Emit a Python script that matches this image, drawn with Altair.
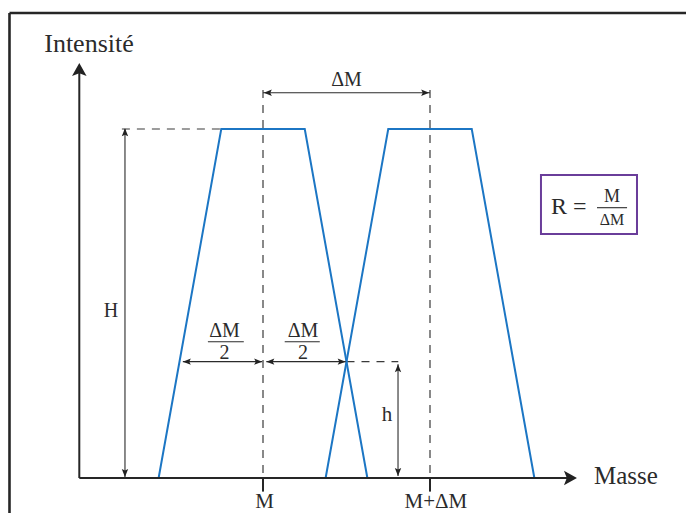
import altair as alt
import pandas as pd

# ---- data (mass units: M = 100, ΔM = 20 ; intensity units: H = 100) ----
peak_names = ["pic M"] * 4 + ["pic M+ΔM"] * 4
peak_x = [87.5, 95, 105, 112.5, 107.5, 115, 125, 132.5]
peak_y = [0, 100, 100, 0, 0, 100, 100, 0]
peak_order = [0, 1, 2, 3, 0, 1, 2, 3]

# axes (solid, thick)
axis_x = [78, 78, 100, 120]
axis_y = [0, 0, 0, 0]
axis_x2 = [78, 137, 100, 120]
axis_y2 = [118, 0, -3.9, -3.9]

# thin dimension arrows
dim_x = [100, 83.47, 90.4, 100.4, 116.17]
dim_y = [110.4, 0.3, 33.33, 33.33, 0.6]
dim_x2 = [120, 83.47, 99.9, 109.9, 116.17]
dim_y2 = [110.4, 100, 33.33, 33.33, 32.6]

# dashed guides
dash_x = [100, 120, 83.1, 110]
dash_y = [111.2, 111.2, 100, 33.33]
dash_x2 = [100, 120, 95, 116.2]
dash_y2 = [0, 0, 100, 33.33]

# fraction bars
bar_x = [93.4, 102.6, 140.0]
bar_y = [39.05, 39.05, 77.45]
bar_x2 = [97.7, 106.8, 143.6]

# frame
frame_x = [69.64, 69.64]
frame_y = [133.24, 133.24]
frame_x2 = [69.64, 150.66]
frame_y2 = [-10.03, 133.24]

# formula box
box_x, box_x2 = [133.29], [144.79]
box_y, box_y2 = [69.91], [86.82]

# arrowheads (tip position, direction in degrees)
big_head_x = [78, 137.6]
big_head_y = [118.9, 0]
big_head_dir = [0, 90]
small_head_x = [100.1, 119.9, 83.47, 83.47, 90.4, 99.9, 100.4, 109.9, 116.17, 116.17]
small_head_y = [110.4, 110.4, 100.2, 0.3, 33.33, 33.33, 33.33, 33.33, 32.6, 0.6]
small_head_dir = [270, 90, 0, 180, 270, 90, 270, 90, 0, 180]

# labels
label_text = ["Intensité", "ΔM", "H", "h", "M", "M+ΔM", "ΔM", "2", "ΔM", "2", "M", "ΔM"]
label_x = [79.16, 110, 81.8, 114.85, 100.2, 120.7, 95.4, 95.4, 104.8, 104.8, 141.8, 141.8]
label_y = [122.06, 112.3, 46.2, 16.42, -8.5, -8.5, 40.5, 34.2, 40.5, 34.2, 79.1, 72.5]
label_size = [26, 20, 20, 21, 21, 21, 20, 20, 20, 20, 18, 16]
left_text = ["Masse", "R ="]
left_x = [139.64, 134.49]
left_y = [-1.72, 75.64]
left_size = [25, 24]

XMIN, XMAX = 69.461, 150.659
YMIN, YMAX = -10.03, 134.67

FONT = "Liberation Serif"
INK = "#2b2b2b"
BLUE = "#1c76c4"

xs = alt.Scale(domain=[XMIN, XMAX], nice=False, zero=False)
ys = alt.Scale(domain=[YMIN, YMAX], nice=False, zero=False)


def seg_df(x, y, x2, y2):
    return pd.DataFrame({"x": x, "y": y, "x2": x2, "y2": y2})


def seg_layer(df, width, color=INK, dash=None):
    kw = dict(strokeWidth=width, color=color)
    if dash is not None:
        kw["strokeDash"] = dash
    return alt.Chart(df).mark_rule(**kw).encode(
        x=alt.X("x:Q", scale=xs, axis=None),
        y=alt.Y("y:Q", scale=ys, axis=None),
        x2="x2:Q",
        y2="y2:Q",
    )


peaks = pd.DataFrame({"peak": peak_names, "x": peak_x, "y": peak_y, "o": peak_order})
peak_layer = alt.Chart(peaks).mark_line(color=BLUE, strokeWidth=2).encode(
    x=alt.X("x:Q", scale=xs, axis=None),
    y=alt.Y("y:Q", scale=ys, axis=None),
    detail="peak:N",
    order="o:Q",
)

frame_layer = seg_layer(seg_df(frame_x, frame_y, frame_x2, frame_y2), 2.6, "#262626")
axis_layer = seg_layer(seg_df(axis_x, axis_y, axis_x2, axis_y2), 2.0, "#262626")
dim_layer = seg_layer(seg_df(dim_x, dim_y, dim_x2, dim_y2), 1.1)
dash_layer = seg_layer(seg_df(dash_x, dash_y, dash_x2, dash_y2), 1.2, "#3a3a3a", [8, 7])
bar_layer = seg_layer(seg_df(bar_x, bar_y, bar_x2, bar_y), 1.1)

box_layer = alt.Chart(pd.DataFrame({"x": box_x, "x2": box_x2, "y": box_y, "y2": box_y2})).mark_rect(
    fill="white", fillOpacity=0, stroke="#6a3d9a", strokeWidth=2
).encode(
    x=alt.X("x:Q", scale=xs, axis=None),
    x2="x2:Q",
    y=alt.Y("y:Q", scale=ys, axis=None),
    y2="y2:Q",
)

BIG_ARROW = "M0,0 L0.56,1 L0,0.78 L-0.56,1 Z"
SMALL_ARROW = "M0,0 L0.4,1 L0,0.8 L-0.4,1 Z"


def head_layer(x, y, d, shape, size):
    df = pd.DataFrame({"x": x, "y": y, "d": d})
    return alt.Chart(df).mark_point(
        shape=shape, filled=True, opacity=1, color="#222222", strokeWidth=0, size=size
    ).encode(
        x=alt.X("x:Q", scale=xs, axis=None),
        y=alt.Y("y:Q", scale=ys, axis=None),
        angle=alt.Angle("d:Q", scale=None),
    )


big_heads = head_layer(big_head_x, big_head_y, big_head_dir, BIG_ARROW, 676)
small_heads = head_layer(small_head_x, small_head_y, small_head_dir, SMALL_ARROW, 256)

labels = pd.DataFrame({"t": label_text, "x": label_x, "y": label_y, "s": label_size})
label_layer = alt.Chart(labels).mark_text(
    font=FONT, color=INK, align="center", baseline="alphabetic"
).encode(
    x=alt.X("x:Q", scale=xs, axis=None),
    y=alt.Y("y:Q", scale=ys, axis=None),
    text="t:N",
    size=alt.Size("s:Q", scale=None),
)

lefts = pd.DataFrame({"t": left_text, "x": left_x, "y": left_y, "s": left_size})
left_layer = alt.Chart(lefts).mark_text(
    font=FONT, color=INK, align="left", baseline="alphabetic"
).encode(
    x=alt.X("x:Q", scale=xs, axis=None),
    y=alt.Y("y:Q", scale=ys, axis=None),
    text="t:N",
    size=alt.Size("s:Q", scale=None),
)

chart = alt.layer(
    frame_layer,
    dash_layer,
    peak_layer,
    axis_layer,
    dim_layer,
    bar_layer,
    box_layer,
    big_heads,
    small_heads,
    label_layer,
    left_layer,
).properties(
    width=678,
    height=505,
    autosize=alt.AutoSizeParams(type="none"),
    padding=0,
    background="white",
).configure_view(stroke=None)

chart.save("out.html", embed_options={"renderer": "svg", "actions": False})
